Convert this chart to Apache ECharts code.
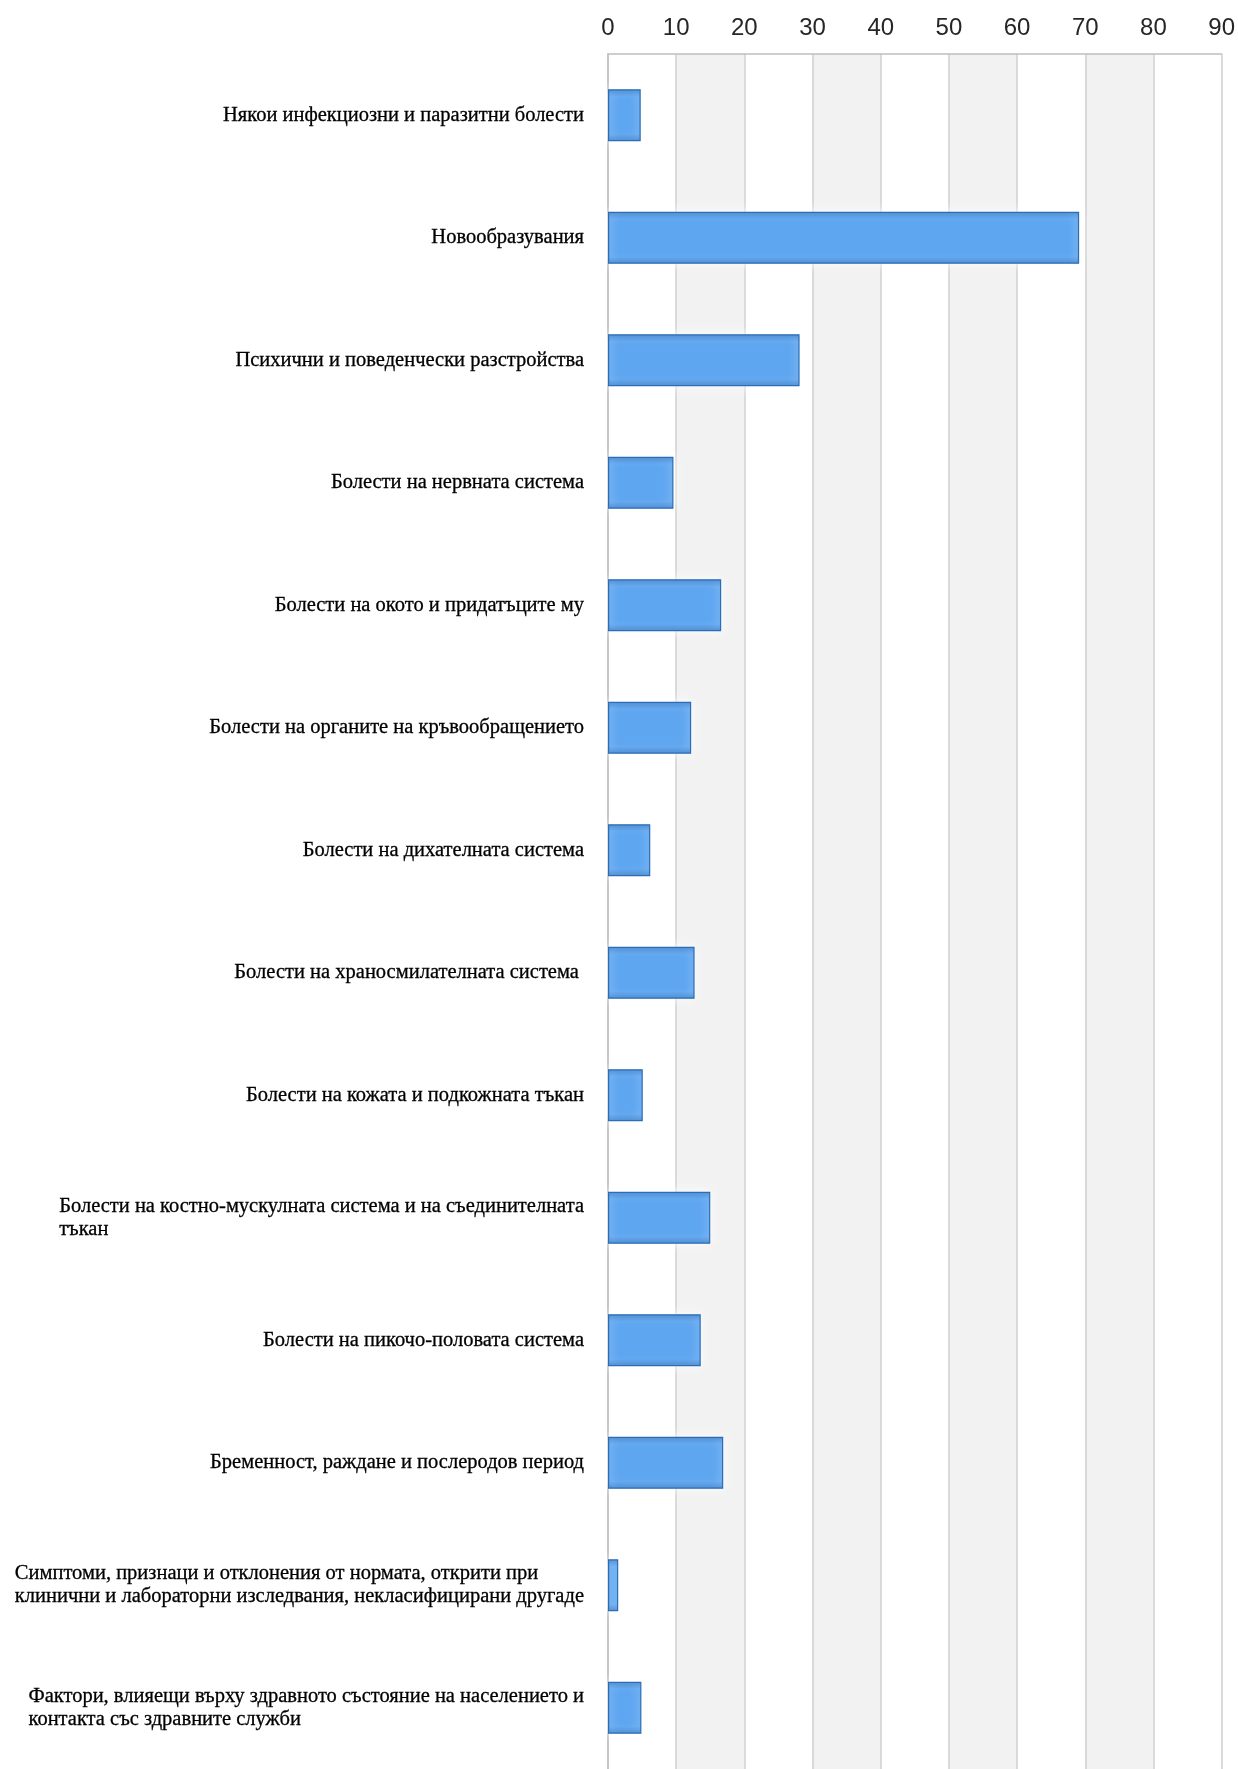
<!DOCTYPE html>
<html>
<head>
<meta charset="utf-8">
<script src="https://cdn.jsdelivr.net/npm/echarts@6/dist/echarts.min.js"></script>
<style>
  html, body { margin: 0; padding: 0; background: #ffffff; }
  #chart { width: 1238px; height: 1769px; }
</style>
</head>
<body>
<div id="chart"></div>
<script>
// Categories (top to bottom)
const categories = [
  "Някои инфекциозни и паразитни болести",
  "Новообразувания",
  "Психични и поведенчески разстройства",
  "Болести на нервната система",
  "Болести на окото и придатъците му",
  "Болести на органите на кръвообращението",
  "Болести на дихателната система",
  "Болести на храносмилателната система ",
  "Болести на кожата и подкожната тъкан",
  "Болести на костно-мускулната система и на съединителната\nтъкан",
  "Болести на пикочо-половата система",
  "Бременност, раждане и послеродов период",
  "Симптоми, признаци и отклонения от нормата, открити при\nклинични и лабораторни изследвания, некласифицирани другаде",
  "Фактори, влияещи върху здравното състояние на населението и\nконтакта със здравните служби"
];
// Values
const values = [4.8, 69.1, 28.1, 9.6, 16.6, 12.2, 6.2, 12.7, 5.1, 15.0, 13.6, 16.9, 1.5, 4.9];
// Axis ticks
const axisMin = 0;
const axisMax = 90;
const axisStep = 10;

const chart = echarts.init(document.getElementById('chart'), null, { renderer: 'canvas' });

const labelFont = 'Liberation Serif';
const labelSize = 20.5;

const option = {
  backgroundColor: '#ffffff',
  animation: false,
  grid: { left: 608, right: 13, top: 54, height: 1722, containLabel: false },
  xAxis: {
    type: 'value',
    position: 'top',
    min: axisMin,
    max: axisMax,
    interval: axisStep,
    axisLine: { show: true, lineStyle: { color: '#BFBFBF', width: 1.5 } },
    axisTick: { show: false },
    axisLabel: {
      margin: 14,
      fontFamily: 'Liberation Sans',
      fontSize: 24,
      color: '#262626'
    },
    splitLine: { show: true, lineStyle: { color: '#CFCFCF', width: 1.5 } },
    splitArea: { show: true, areaStyle: { color: ['#FFFFFF', '#F2F2F2'] } }
  },
  yAxis: {
    type: 'category',
    inverse: true,
    data: categories,
    axisLine: { show: true, lineStyle: { color: '#BFBFBF', width: 1.5 } },
    axisTick: { show: false },
    splitLine: { show: false },
    axisLabel: {
      margin: 24,
      fontFamily: labelFont,
      fontSize: labelSize,
      lineHeight: 23,
      color: '#000000',
      formatter: function (v) {
        return v.split('\n').map(function (s) { return '{l|' + s + '}'; }).join('\n');
      },
      rich: {
        l: {
          align: 'left',
          fontFamily: labelFont,
          fontSize: labelSize,
          lineHeight: 23,
          color: '#000000',
          textBorderColor: '#000000',
          textBorderWidth: 0.3
        }
      }
    }
  },
  series: [{
    type: 'bar',
    data: values,
    barWidth: 52,
    itemStyle: {
      color: new echarts.graphic.LinearGradient(0, 0, 0, 1, [
        { offset: 0, color: '#3A80CC' },
        { offset: 0.14, color: '#5EA6F0' },
        { offset: 0.86, color: '#5EA6F0' },
        { offset: 1, color: '#3A80CC' }
      ]),
      borderColor: '#2C6DB5',
      borderWidth: 1.2,
      shadowColor: 'rgba(255,255,255,0.95)',
      shadowBlur: 10
    }
  }]
};

chart.setOption(option);
</script>
</body>
</html>
